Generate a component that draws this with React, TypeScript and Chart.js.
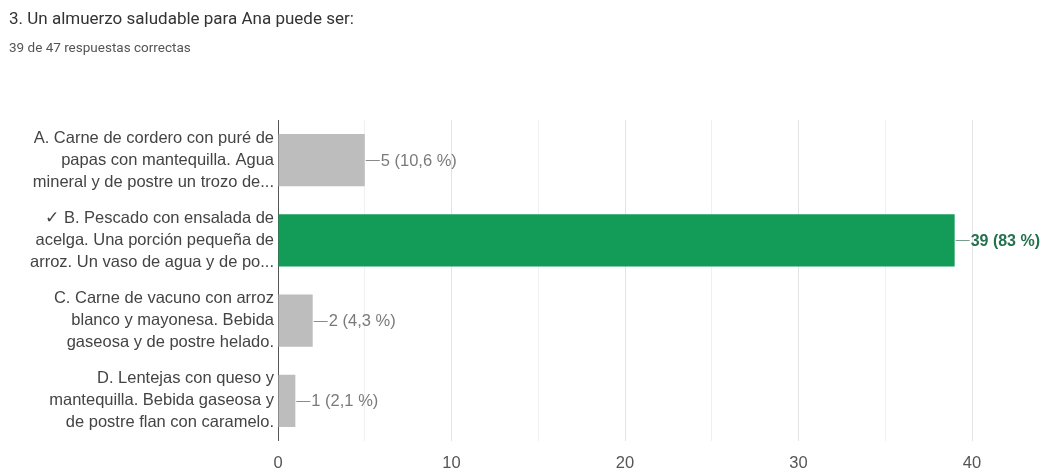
import React, { useEffect, useRef } from "react";
import { Chart, registerables } from "chart.js";

Chart.register(...registerables);

const titleText = "3. Un almuerzo saludable para Ana puede ser:";
const subtitleText = "39 de 47 respuestas correctas";

const categories: string[][] = [
  ["A. Carne de cordero con puré de", "papas con mantequilla. Agua", "mineral y de postre un trozo de..."],
  ["✓ B. Pescado con ensalada de", "acelga. Una porción pequeña de", "arroz. Un vaso de agua y de po..."],
  ["C. Carne de vacuno con arroz", "blanco y mayonesa. Bebida", "gaseosa y de postre helado."],
  ["D. Lentejas con queso y", "mantequilla. Bebida gaseosa y", "de postre flan con caramelo."],
];
const counts = [5, 39, 2, 1];
const valueLabels = ["5 (10,6 %)", "39 (83 %)", "2 (4,3 %)", "1 (2,1 %)"];
const correct = [false, true, false, false];
const xTicks = [0, 5, 10, 15, 20, 25, 30, 35, 40];

const FONT = "'Liberation Sans', Arial, sans-serif";

const valueLabelPlugin = {
  id: "valueLabels",
  afterDatasetsDraw(chart: any) {
    const ctx = chart.ctx;
    const meta = chart.getDatasetMeta(0);
    ctx.save();
    meta.data.forEach((bar: any, i: number) => {
      const x = bar.x;
      const y = bar.y;
      const isOk = correct[i];
      ctx.strokeStyle = isOk ? "#7a9c8a" : "#8a8a8a";
      ctx.lineWidth = 1;
      ctx.beginPath();
      ctx.moveTo(x + 1, Math.round(y) + 0.5);
      ctx.lineTo(x + 15, Math.round(y) + 0.5);
      ctx.stroke();
      ctx.font = (isOk ? "bold 16px " : "16.5px ") + FONT;
      ctx.fillStyle = isOk ? "#25704d" : "#7a7a7a";
      ctx.textAlign = "left";
      ctx.textBaseline = "middle";
      ctx.fillText(valueLabels[i], x + 16, y + 1);
    });
    ctx.restore();
  },
};

export default function App() {
  const canvasRef = useRef<HTMLCanvasElement | null>(null);

  useEffect(() => {
    if (!canvasRef.current) return;
    const chart = new Chart(canvasRef.current, {
      type: "bar",
      data: {
        labels: categories,
        datasets: [
          {
            data: counts,
            backgroundColor: correct.map((c) => (c ? "#129c58" : "#bdbdbd")),
            borderWidth: 0,
            barPercentage: 0.65,
            categoryPercentage: 1,
          },
        ],
      },
      options: {
        indexAxis: "y",
        animation: false,
        responsive: false,
        devicePixelRatio: 1,
        layout: { padding: { top: 120, right: 75, left: 0, bottom: 0 } },
        plugins: {
          legend: { display: false },
          tooltip: { enabled: false },
          title: { display: false },
        },
        scales: {
          x: {
            type: "linear",
            min: 0,
            max: 40,
            afterBuildTicks: (scale: any) => {
              scale.ticks = xTicks.map((v) => ({ value: v }));
            },
            afterFit: (scale: any) => {
              scale.height = 31;
              scale.paddingLeft = 0;
              scale.paddingRight = 0;
            },
            border: { display: false },
            grid: {
              drawTicks: false,
              color: (ctx: any) => {
                const v = ctx.tick ? ctx.tick.value : 0;
                if (v === 0) return "#555555";
                return v % 10 === 0 ? "#e3e3e3" : "#f0f0f0";
              },
            },
            ticks: {
              padding: 13,
              color: "#555555",
              font: { family: FONT, size: 16.5 },
              callback: (v: any) => (Number(v) % 10 === 0 ? String(v) : ""),
            },
          },
          y: {
            afterFit: (scale: any) => {
              scale.width = 278;
              scale.paddingTop = 0;
              scale.paddingBottom = 0;
            },
            border: { display: false },
            grid: { display: false, drawTicks: false },
            ticks: {
              padding: 4,
              color: "#444444",
              font: { family: FONT, size: 16.5, lineHeight: "22px" },
            },
          },
        },
      },
      plugins: [valueLabelPlugin],
    } as any);
    return () => chart.destroy();
  }, []);

  return (
    <div style={{ position: "absolute", left: 0, top: 0, width: 1047, height: 472, background: "#ffffff", overflow: "hidden" }}>
      <canvas ref={canvasRef} width={1047} height={472} style={{ position: "absolute", left: 0, top: 0 }} />
      <div
        style={{
          position: "absolute",
          left: 9,
          top: 6,
          fontFamily: "Roboto, Arial, sans-serif",
          fontSize: 17,
          color: "#333333",
          whiteSpace: "nowrap",
          lineHeight: "24px",
        }}
      >
        {titleText}
      </div>
      <div
        style={{
          position: "absolute",
          left: 9,
          top: 37,
          fontFamily: "Roboto, Arial, sans-serif",
          fontSize: 13.5,
          color: "#555555",
          whiteSpace: "nowrap",
          lineHeight: "20px",
        }}
      >
        {subtitleText}
      </div>
    </div>
  );
}
